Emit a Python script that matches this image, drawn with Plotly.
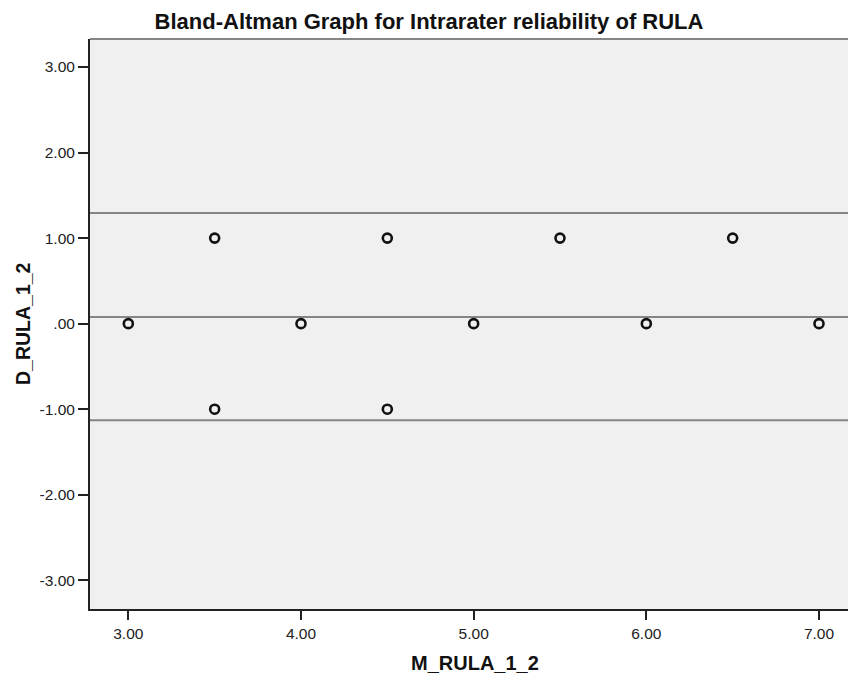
import plotly.graph_objects as go

# Data
mean_vals = [3.0, 3.5, 4.0, 4.5, 5.0, 5.5, 6.0, 6.5, 7.0, 3.5, 4.5]
diff_vals = [0.0, 1.0, 0.0, 1.0, 0.0, 1.0, 0.0, 1.0, 0.0, -1.0, -1.0]
ref_lines = [1.294, 0.078, -1.128]  # upper LoA, mean difference, lower LoA

x_tick_vals = [3, 4, 5, 6, 7]
x_tick_text = ["3.00", "4.00", "5.00", "6.00", "7.00"]
y_tick_vals = [-3, -2, -1, 0, 1, 2, 3]
y_tick_text = ["-3.00", "-2.00", "-1.00", ".00", "1.00", "2.00", "3.00"]

FONT = "Arial, 'Liberation Sans', sans-serif"

fig = go.Figure()
fig.add_trace(go.Scatter(
    x=mean_vals, y=diff_vals, mode="markers",
    marker=dict(symbol="circle-open", size=9, color="#111111",
                line=dict(width=2.6, color="#111111")),
    showlegend=False, hoverinfo="x+y"))

for v in ref_lines:
    fig.add_shape(type="line", xref="paper", x0=0, x1=1, yref="y", y0=v, y1=v,
                  line=dict(color="#858585", width=2), layer="below")

# top border of plot frame
fig.add_shape(type="line", xref="paper", x0=0, x1=1, yref="paper", y0=1, y1=1,
              line=dict(color="#858585", width=2))

fig.update_layout(
    width=848, height=680,
    margin=dict(l=90, r=0, t=39, b=71),
    paper_bgcolor="white", plot_bgcolor="#f0f0f0",
    font=dict(family=FONT, color="#222222"),
    title=dict(text="<b>Bland-Altman Graph for Intrarater reliability of RULA</b>",
               x=429/848, xref="container", xanchor="center",
               y=1-21/680, yref="container", yanchor="middle",
               font=dict(size=22, color="#111111", family=FONT)),
    xaxis=dict(range=[2.778, 7.168], tickvals=x_tick_vals, ticktext=x_tick_text,
               showgrid=False, zeroline=False, showline=True, linecolor="#222222",
               linewidth=2, ticks="outside", ticklen=9, tickwidth=2, tickcolor="#222222",
               tickfont=dict(size=15.5, color="#222222", family=FONT)),
    yaxis=dict(range=[-3.335, 3.327], tickvals=y_tick_vals, ticktext=y_tick_text,
               showgrid=False, zeroline=False, showline=True, linecolor="#222222",
               linewidth=2, ticks="outside", ticklen=10, tickwidth=2, tickcolor="#222222",
               ticklabelstandoff=0,
               tickfont=dict(size=15.5, color="#222222", family=FONT)),
)

fig.add_annotation(text="<b>M_RULA_1_2</b>", xref="paper", yref="paper",
                   x=(474.5-90)/758, y=-(663-609)/570, xanchor="center", yanchor="middle",
                   showarrow=False, font=dict(size=20, color="#111111", family=FONT))
fig.add_annotation(text="<b>D_RULA_1_2</b>", xref="paper", yref="paper",
                   x=(22.5-90)/758, y=(609-323.5)/570, xanchor="center", yanchor="middle",
                   textangle=-90, showarrow=False,
                   font=dict(size=19.5, color="#111111", family=FONT))

fig.write_html("out.html")
